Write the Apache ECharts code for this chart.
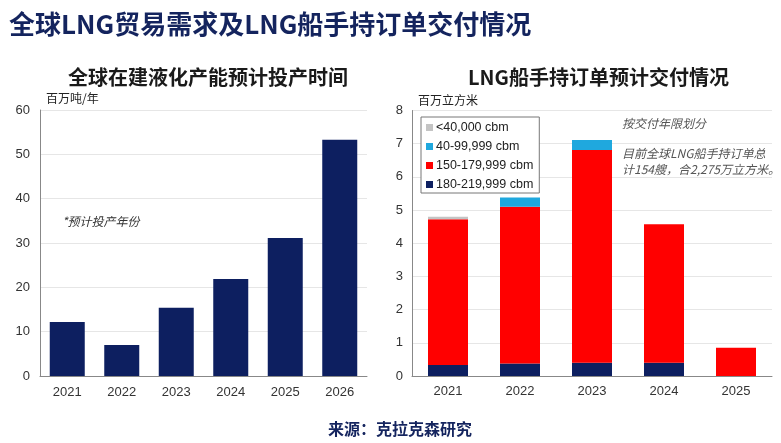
<!DOCTYPE html>
<html><head><meta charset="utf-8">
<script src="https://cdn.jsdelivr.net/npm/echarts@6/dist/echarts.min.js"></script>
<style>html,body{margin:0;padding:0;background:#fff}#c{width:781px;height:443px}</style>
</head><body><div id="c"></div>
<script>
// Left chart data
const leftYears = ['2021','2022','2023','2024','2025','2026'];
const leftValues = [12.2, 7.0, 15.4, 21.9, 31.1, 53.3];
// Right chart data
const rightYears = ['2021','2022','2023','2024','2025'];
const s180 = [0.33, 0.38, 0.40, 0.40, 0];
const s150 = [4.39, 4.72, 6.41, 4.17, 0.85];
const s40 = [0, 0.28, 0.30, 0, 0];
const sLt40 = [0.08, 0, 0, 0, 0];
const legendNames = ['<40,000 cbm','40-99,999 cbm','150-179,999 cbm','180-219,999 cbm'];
const leftTicks = [0,10,20,30,40,50,60];
const rightTicks = [0,1,2,3,4,5,6,7,8];

const navy = '#0d1f60';
const fontF = '"Noto Sans CJK SC", "Liberation Sans", sans-serif';
const chart = echarts.init(document.getElementById('c'));
const axisLabel = {color:'#333', fontSize:13, fontFamily:'"Liberation Sans", Arial, sans-serif'};
chart.setOption({
  animation:false,
  textStyle:{fontFamily:fontF},
  title:[
    {text:'全球LNG贸易需求及LNG船手持订单交付情况', left:4, top:6, textStyle:{fontSize:26, fontWeight:'bold', color:'#14245e', fontFamily:fontF}},
    {text:'全球在建液化产能预计投产时间', left:63, top:62, textStyle:{fontSize:20, fontWeight:'bold', color:'#1a1a1a', fontFamily:fontF}},
    {text:'LNG船手持订单预计交付情况', left:463, top:62, textStyle:{fontSize:20, fontWeight:'bold', color:'#1a1a1a', fontFamily:fontF}},
    {text:'来源：克拉克森研究', left:323, top:416, textStyle:{fontSize:16, fontWeight:'bold', color:'#14245e', fontFamily:fontF}}
  ],
  legend:{
    data:legendNames, orient:'vertical', left:421, top:117,
    itemWidth:7, itemHeight:7, itemGap:6, padding:[4,6,2,5],
    borderColor:'#777', borderWidth:1, backgroundColor:'#fff',
    icon:'rect', selectedMode:false,
    textStyle:{fontSize:12.5, color:'#222', fontFamily:'"Liberation Sans", Arial, sans-serif', padding:[0,0,0,-2]}
  },
  grid:[
    {left:40, right:414, top:110, bottom:67},
    {left:412, right:9, top:110.5, bottom:67}
  ],
  xAxis:[
    {type:'category', gridIndex:0, data:leftYears, axisTick:{show:false},
     axisLine:{lineStyle:{color:'#888'}}, axisLabel:Object.assign({margin:10},axisLabel)},
    {type:'category', gridIndex:1, data:rightYears, axisTick:{show:false},
     axisLine:{lineStyle:{color:'#888'}}, axisLabel:Object.assign({margin:9},axisLabel)}
  ],
  yAxis:[
    {type:'value', gridIndex:0, min:leftTicks[0], max:leftTicks[leftTicks.length-1], interval:10,
     name:'百万吨/年', nameLocation:'end', nameGap:6, nameTextStyle:{color:'#222', fontSize:12, align:'left', padding:[0,0,0,6]},
     axisLine:{show:true, lineStyle:{color:'#888'}}, axisTick:{show:false},
     splitLine:{lineStyle:{color:'#e6e6e6'}}, axisLabel:Object.assign({margin:10},axisLabel)},
    {type:'value', gridIndex:1, min:rightTicks[0], max:rightTicks[rightTicks.length-1], interval:1,
     name:'百万立方米', nameLocation:'end', nameGap:4, nameTextStyle:{color:'#222', fontSize:12, align:'left', padding:[0,0,0,6]},
     axisLine:{show:true, lineStyle:{color:'#888'}}, axisTick:{show:false},
     splitLine:{lineStyle:{color:'#e6e6e6'}}, axisLabel:Object.assign({margin:9},axisLabel)}
  ],
  series:[
    {type:'bar', xAxisIndex:0, yAxisIndex:0, data:leftValues, barWidth:35, itemStyle:{color:navy}},
    {name:legendNames[3], type:'bar', stack:'r', xAxisIndex:1, yAxisIndex:1, data:s180, barWidth:40, itemStyle:{color:navy}},
    {name:legendNames[2], type:'bar', stack:'r', xAxisIndex:1, yAxisIndex:1, data:s150, barWidth:40, itemStyle:{color:'#ff0000'}},
    {name:legendNames[1], type:'bar', stack:'r', xAxisIndex:1, yAxisIndex:1, data:s40, barWidth:40, itemStyle:{color:'#1fa8de'}},
    {name:legendNames[0], type:'bar', stack:'r', xAxisIndex:1, yAxisIndex:1, data:sLt40, barWidth:40, itemStyle:{color:'#c4c4c4'}}
  ],
  graphic:[
    {type:'text', left:62, top:215, style:{text:'*预计投产年份', fill:'#333', font:'italic 12px "Noto Sans CJK SC"'}},
    {type:'text', left:622, top:117, style:{text:'按交付年限划分', fill:'#555', font:'italic 12px "Noto Sans CJK SC"'}},
    {type:'text', left:622, top:145, style:{text:'目前全球LNG船手持订单总\n计154艘，合2,275万立方米。', fill:'#555', lineHeight:16, font:'italic 12px "Noto Sans CJK SC"'}}
  ]
});
</script></body></html>
